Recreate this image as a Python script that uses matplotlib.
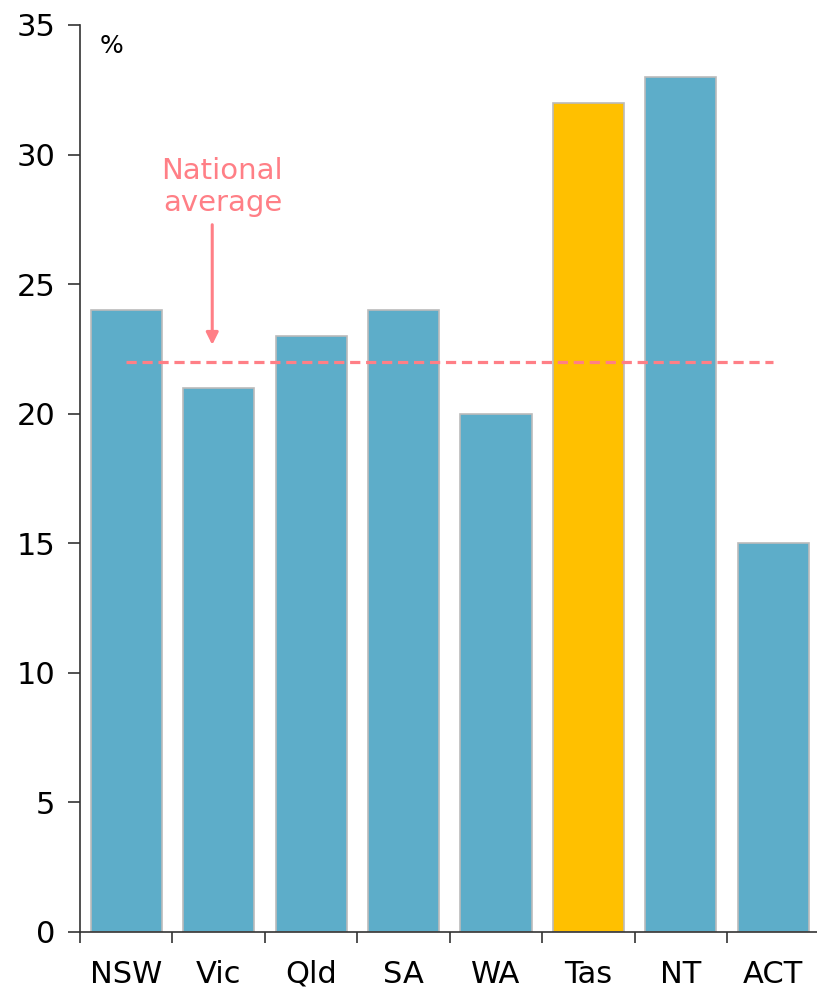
import numpy as np
import matplotlib
matplotlib.use('Agg')
import matplotlib.pyplot as plt

# data
states = ['NSW', 'Vic', 'Qld', 'SA', 'WA', 'Tas', 'NT', 'ACT']
share = [24, 21, 23, 24, 20, 32, 33, 15]
national_avg = 22
highlight = 'Tas'

blue = '#5DADC9'
gold = '#FFC000'
pink = '#FF7F86'

plt.rcParams['font.family'] = ['DejaVu Sans']

fig = plt.figure(figsize=(8.17, 9.88), dpi=100)
ax = fig.add_axes([0.098, 0.0567, 0.905, 0.918])

x = np.arange(len(states))
colours = [gold if s == highlight else blue for s in states]
ax.bar(x, share, width=0.77, color=colours, edgecolor='#BBBBBB', linewidth=1.2, zorder=2)

# national average line
ax.plot([x[0], x[-1]], [national_avg, national_avg], color=pink, linestyle=(0, (3.2, 1.8)),
        linewidth=2.3, zorder=3)
ax.annotate('', xy=(0.93, 22.55), xytext=(0.93, 27.4),
            arrowprops=dict(arrowstyle='-|>', color=pink, lw=2.2, mutation_scale=18))
ax.text(1.04, 28.75, 'National\naverage', color=pink, fontsize=21, ha='center', va='center',
        linespacing=1.2)

ax.text(-0.29, 34.2, '%', fontsize=18, ha='left', va='center')

ax.set_xlim(-0.5, len(states) - 0.5)
ax.set_ylim(0, 35)
ax.set_yticks(np.arange(0, 36, 5))
ax.set_xticks(x)
ax.set_xticklabels(states)
ax.set_xticks(np.arange(-0.5, len(states), 1), minor=True)
ax.tick_params(axis='x', which='major', length=0, pad=20, labelsize=22)
ax.tick_params(axis='x', which='minor', length=8, width=1.2, color='#333333')
ax.tick_params(axis='y', length=9, width=1.2, color='#333333', labelsize=22, pad=9)

for side in ['top', 'right']:
    ax.spines[side].set_visible(False)
for side in ['left', 'bottom']:
    ax.spines[side].set_color('#333333')
    ax.spines[side].set_linewidth(1.2)

fig.savefig('out.png', dpi=100)
